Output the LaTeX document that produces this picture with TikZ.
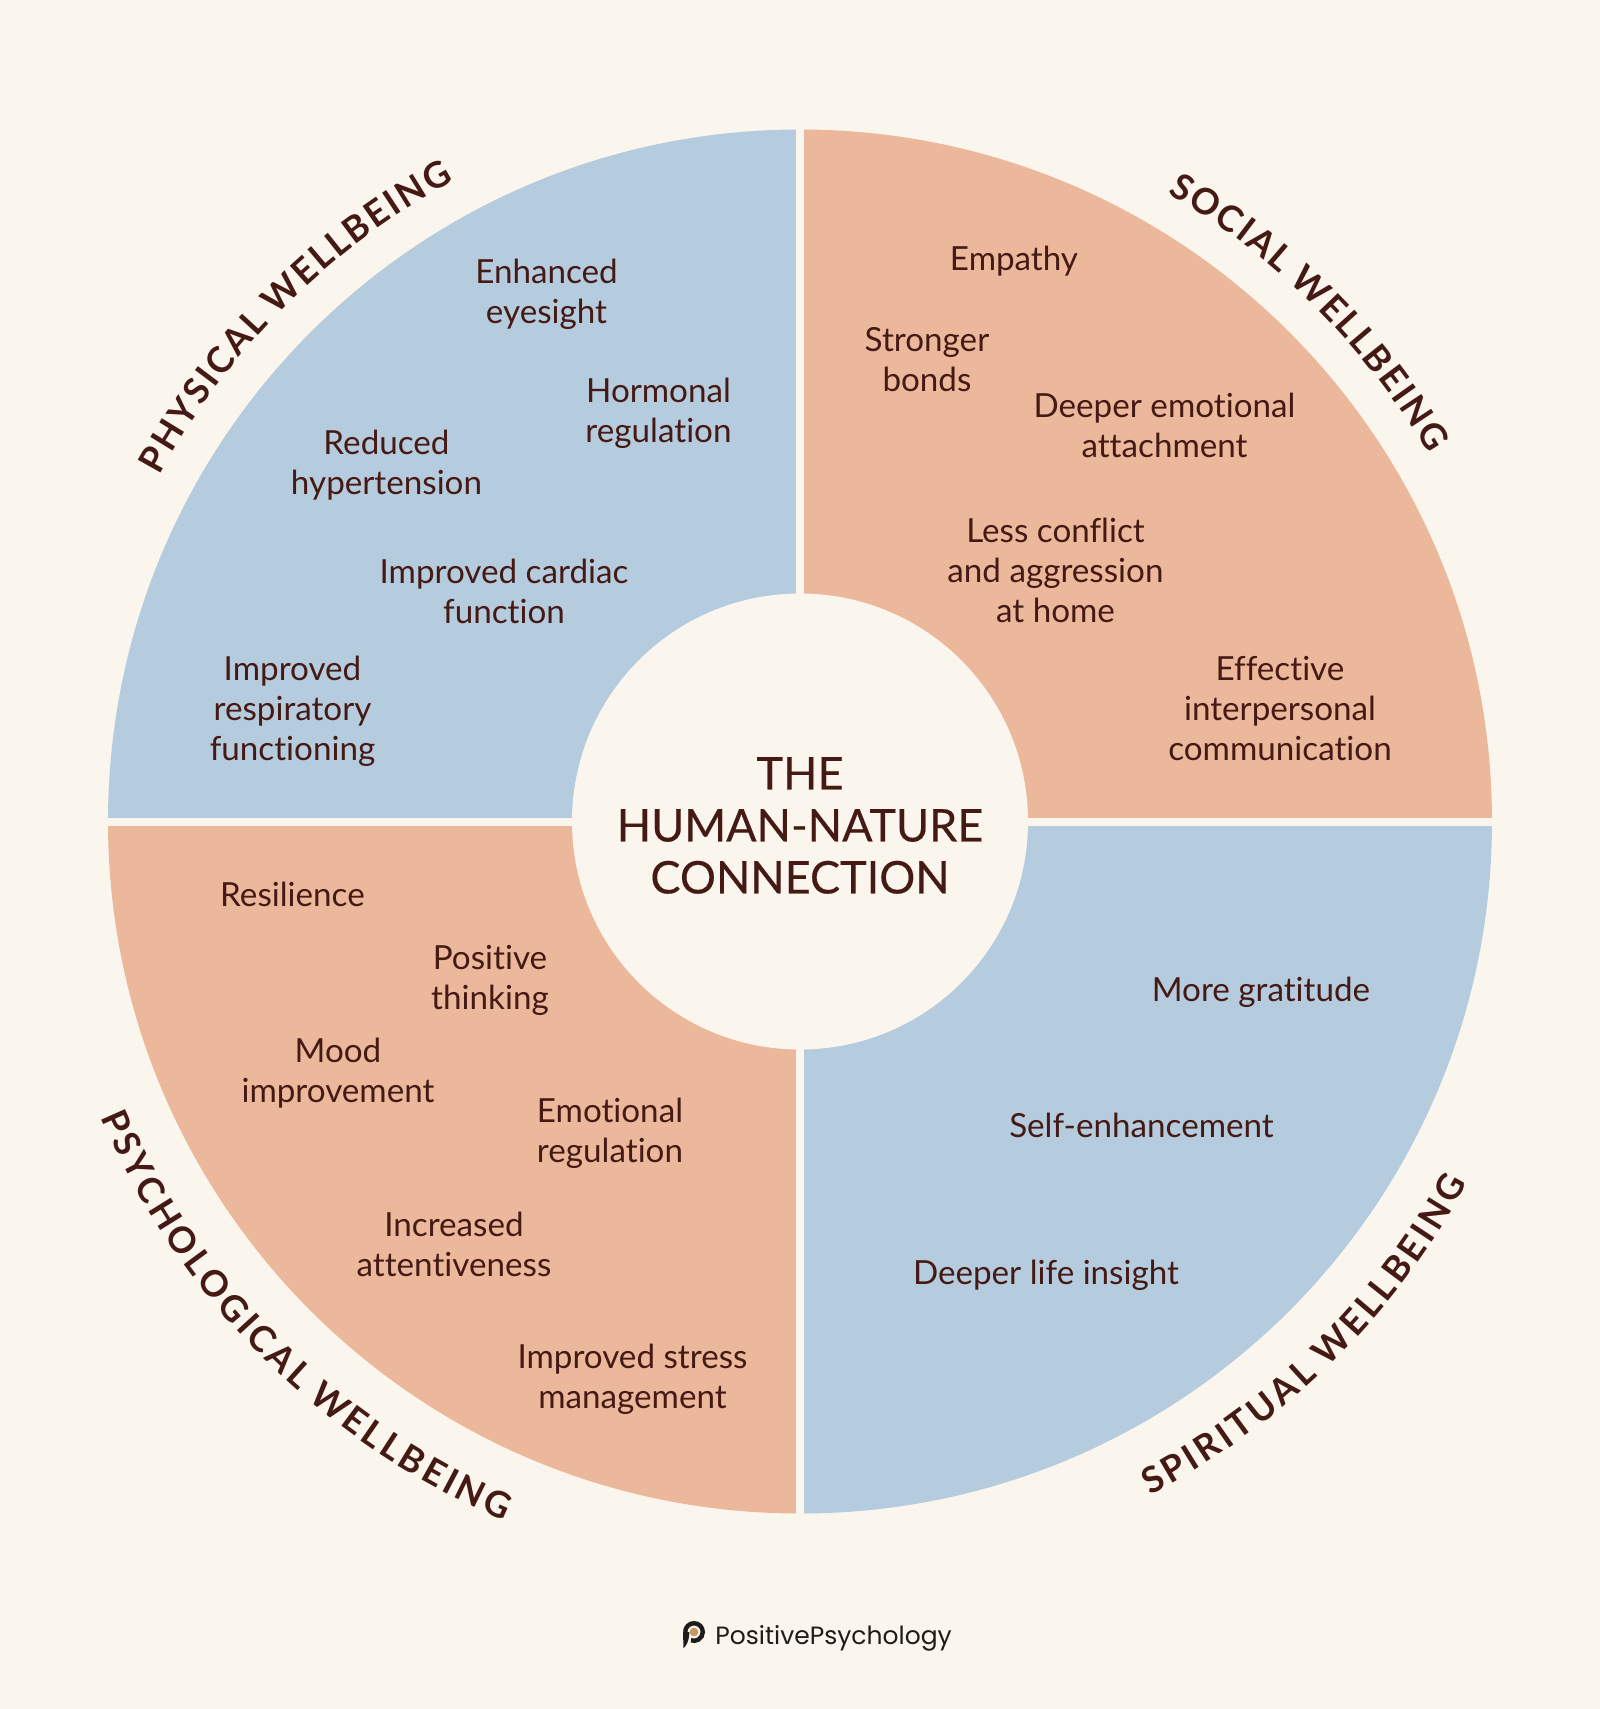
\documentclass[tikz,border=0pt]{standalone}
\usepackage{fontspec}
\setmainfont[RawFeature={-liga;-clig;-dlig;-calt}]{Lato}
\newfontfamily\logofont{Poppins}
\usetikzlibrary{decorations.text}
\definecolor{bgc}{HTML}{FAF5ED}
\definecolor{bluec}{HTML}{B5CBDE}
\definecolor{peachc}{HTML}{ECB89B}
\definecolor{inkc}{HTML}{451A15}
\definecolor{goldc}{HTML}{C49A62}
\definecolor{logoc}{HTML}{1E1C1A}
\newcommand\ttlfont{\fontsize{18}{18}\bfseries\selectfont}
\newcommand\kk{\kern1.15pt}
\newcommand\kb{\kern1.75pt}
\tikzset{
  x=0.5pt,y=0.5pt,
  lbl/.style={text=inkc,align=center,inner sep=0pt,font=\fontsize{16.6}{20}\selectfont},
  hub/.style={circle,fill=bgc,minimum size=228pt,inner sep=0pt},
  ttlarc/.style={decorate,decoration={text along path,text align=center,text color=inkc,text={|\ttlfont|#1}}},
  gap/.style={draw=bgc,line width=4pt}
}
\begin{document}
\begin{tikzpicture}
\useasboundingbox (0,0) rectangle (1600,-1709);
\fill[bgc] (0,0) rectangle (1600,-1709);
\coordinate (c) at (800,-821.5);
\fill[bluec] (c) -- ++(-692,0) arc[start angle=180,end angle=90,radius=692] -- cycle;
\fill[peachc] (c) -- ++(0,692) arc[start angle=90,end angle=0,radius=692] -- cycle;
\fill[bluec] (c) -- ++(692,0) arc[start angle=0,end angle=-90,radius=692] -- cycle;
\fill[peachc] (c) -- ++(0,-692) arc[start angle=270,end angle=180,radius=692] -- cycle;
\coordinate (gapn) at (800,-120);
\coordinate (gaps) at (800,-1523);
\coordinate (gapw) at (100,-821.5);
\coordinate (gape) at (1500,-821.5);
\draw[gap] (gapn) -- (gaps);
\draw[gap] (gapw) -- (gape);
\node[hub] (hubnode) at (c) {};
\node[text=inkc,align=center,inner sep=0pt,font=\fontsize{22.5}{26}\selectfont\addfontfeature{FakeBold=0.3}] (hubtext) at (800,-825.5) {THE\\HUMAN-NATURE\\CONNECTION};
\path[ttlarc={{P\kk}{H\kk}{Y\kk}{S\kk}{I\kk}{C\kk}{A\kk}{L\kk} {W\kk}{E\kk}{L\kk}{L\kk}{B\kk}{E\kk}{I\kk}{N\kk}{G}}] (c) ++(175:728) arc[start angle=175,end angle=95,radius=728];
\path[ttlarc={{S\kk}{O\kk}{C\kk}{I\kk}{A\kk}{L\kk} {W\kk}{E\kk}{L\kk}{L\kk}{B\kk}{E\kk}{I\kk}{N\kk}{G}}] (c) ++(85:728) arc[start angle=85,end angle=5,radius=728];
\path[ttlarc={{P\kb}{S\kb}{Y\kb}{C\kb}{H\kb}{O\kb}{L\kb}{O\kb}{G\kb}{I\kb}{C\kb}{A\kb}{L\kb} {W\kb}{E\kb}{L\kb}{L\kb}{B\kb}{E\kb}{I\kb}{N\kb}{G}}] (c) ++(180:759) arc[start angle=180,end angle=270,radius=759];
\path[ttlarc={{S\kb}{P\kb}{I\kb}{R\kb}{I\kb}{T\kb}{U\kb}{A\kb}{L\kb} {W\kb}{E\kb}{L\kb}{L\kb}{B\kb}{E\kb}{I\kb}{N\kb}{G}}] (c) ++(269.5:759) arc[start angle=269.5,end angle=359.5,radius=759];
\node[lbl] (a1) at (546.5,-294) {Enhanced\\eyesight};
\node[lbl] (a2) at (658.5,-413.5) {Hormonal\\regulation};
\node[lbl] (a3) at (386.5,-465) {Reduced\\hypertension};
\node[lbl] (a4) at (504,-591) {Improved cardiac\\function};
\node[lbl] (a5) at (292.5,-711.5) {Improved\\respiratory\\functioning};
\node[lbl] (b1) at (1014,-261.5) {Empathy};
\node[lbl] (b2) at (927,-360) {Stronger\\bonds};
\node[lbl] (b3) at (1164.5,-425.6) {Deeper emotional\\attachment};
\node[lbl] (b4) at (1055.5,-570.5) {Less conflict\\and aggression\\at home};
\node[lbl] (b5) at (1280,-708.5) {Effective\\interpersonal\\communication};
\node[lbl] (c1) at (292.5,-894) {Resilience};
\node[lbl] (c2) at (490,-980.5) {Positive\\thinking};
\node[lbl] (c3) at (338,-1073.5) {Mood\\improvement};
\node[lbl] (c4) at (610,-1133.5) {Emotional\\regulation};
\node[lbl] (c5) at (454,-1244) {Increased\\attentiveness};
\node[lbl] (c6) at (632.5,-1379.5) {Improved stress\\management};
\node[lbl] (d1) at (1261,-992) {More gratitude};
\node[lbl] (d2) at (1141.5,-1125) {Self-enhancement};
\node[lbl] (d3) at (1046,-1275.5) {Deeper life insight};
% logo
\coordinate (logoc) at (694,-1632);
\draw[logoc,line width=2.2pt] (logoc) ++(180:8.8) arc[start angle=180,end angle=-110,radius=8.8];
\fill[logoc] (683,-1632) -- (683.5,-1648) .. controls (686,-1646) and (689,-1642) .. (689.4,-1632) -- cycle;
\fill[goldc] (logoc) circle[radius=4.3];
\node[anchor=west,inner sep=0pt,text=logoc,font=\logofont\fontsize{12.5}{15}\selectfont] (logotext) at (715,-1638) {PositivePsychology};
\end{tikzpicture}
\end{document}
